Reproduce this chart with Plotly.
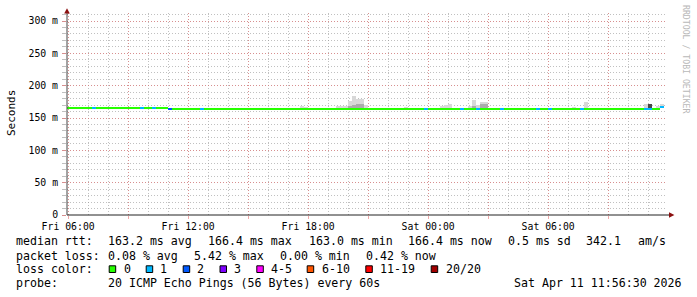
import plotly.graph_objects as go
from datetime import datetime, timedelta

# ---------------- data ----------------
T_START = "2026-04-10 05:56:30"
T_END = "2026-04-11 11:56:30"
BIN_START = datetime(2026, 4, 10, 5, 48)   # first (partly visible) 12-minute bin
BIN_MINUTES = 12

# median rtt per 12-minute bin (ms)
median_ms = [
    165.2, 165.2, 165.2, 165.2, 165.2, 165.2, 165.2, 165.2, 165.2, 165.2,
    165.2, 165.2, 165.2, 165.2, 165.2, 165.2, 165.2, 165.2, 165.2, 165.2,
    165.2, 165.2, 165.2, 165.2, 165.2, 165.2, 163.2, 163.2, 163.2, 163.2,
    163.2, 163.2, 163.2, 163.2, 163.2, 163.2, 163.2, 163.2, 163.2, 163.2,
    163.2, 163.2, 163.2, 163.2, 163.2, 163.2, 163.2, 163.2, 163.2, 163.2,
    163.2, 163.2, 163.2, 163.2, 163.2, 163.2, 163.2, 163.2, 163.2, 164.4,
    163.2, 163.2, 163.2, 163.2, 163.2, 163.2, 163.2, 163.2, 163.2, 163.2,
    163.2, 163.2, 164.4, 163.2, 163.2, 163.2, 163.2, 163.2, 163.2, 163.2,
    163.2, 163.2, 163.2, 163.2, 163.2, 163.2, 163.2, 163.2, 163.2, 163.2,
    163.2, 163.2, 163.2, 163.2, 163.2, 163.2, 163.2, 163.2, 163.2, 163.2,
    163.2, 163.2, 163.2, 163.2, 163.2, 164.6, 163.2, 163.2, 163.2, 163.2,
    163.2, 163.2, 163.2, 163.2, 163.2, 163.2, 163.2, 163.2, 163.2, 163.2,
    163.2, 163.2, 163.2, 163.2, 163.2, 163.2, 163.2, 163.2, 163.2, 163.2,
    163.2, 163.2, 163.2, 163.2, 163.2, 163.2, 163.2, 163.2, 163.2, 163.2,
    163.2, 163.2, 163.2, 163.2, 163.2, 163.2, 163.2, 163.2, 163.2, 166.4,
]

# lost pings (of 20) per bin
loss_count = [
    0, 0, 0, 0, 0, 0, 0, 1, 0, 0,
    0, 0, 0, 0, 0, 0, 0, 0, 0, 1,
    0, 0, 1, 0, 0, 0, 2, 0, 0, 0,
    0, 0, 0, 0, 1, 0, 0, 0, 0, 0,
    0, 0, 0, 0, 0, 0, 0, 0, 0, 0,
    0, 0, 0, 0, 0, 0, 0, 0, 0, 0,
    0, 0, 0, 0, 0, 0, 0, 0, 0, 0,
    0, 0, 0, 0, 0, 0, 0, 0, 0, 0,
    0, 0, 0, 0, 0, 0, 0, 0, 0, 0,
    1, 0, 0, 0, 0, 0, 0, 0, 0, 1,
    0, 0, 0, 1, 0, 0, 0, 0, 0, 1,
    0, 0, 0, 0, 0, 0, 0, 0, 1, 0,
    0, 1, 0, 0, 0, 0, 0, 0, 0, 1,
    0, 0, 0, 0, 0, 0, 0, 0, 0, 0,
    0, 0, 0, 0, 0, 1, 1, 0, 0, 1,
]

# smoke (ping spread above the median): bin index, highest ping, upper-band ping, dark band
smoke_bin = [24, 57, 58, 59, 60, 64, 65, 68, 69, 70, 71, 72, 73, 74, 75, 85, 88,
             94, 95, 96, 101, 102, 103, 104, 105, 127, 130, 145, 146, 148, 149]
smoke_top = [167.5, 166.0, 166.0, 168.5, 167.0, 166.0, 166.0, 168.5, 168.5, 168.5,
             176.3, 184.0, 179.4, 179.4, 170.1, 167.0, 166.0,
             168.5, 170.0, 171.6, 168.5, 177.8, 170.1, 174.7, 174.7, 167.0, 174.7,
             171.6, 171.6, 168.0, 171.0]
smoke_mid = [None, None, None, None, None, None, None, None, None, None,
             169.0, 170.5, 171.6, 171.6, None, None, None,
             None, None, None, None, 168.0, None, 171.0, 171.0, None, None,
             None, 171.6, None, None]
smoke_dark = [None] * 28 + [171.6, None, None]

loss_levels = ["0", "1", "2", "3", "4-5", "6-10", "11-19", "20/20"]
loss_colors = ["#26ff00", "#00b8ff", "#0059ff", "#7e00ff", "#ff00ff", "#ff5500", "#ff0000", "#a10000"]

y_tick_vals = [0, 50, 100, 150, 200, 250, 300]
y_tick_text = ["0", "50 m", "100 m", "150 m", "200 m", "250 m", "300 m"]
x_tick_vals = ["2026-04-10 06:00", "2026-04-10 09:00", "2026-04-10 12:00", "2026-04-10 15:00",
               "2026-04-10 18:00", "2026-04-10 21:00", "2026-04-11 00:00", "2026-04-11 03:00",
               "2026-04-11 06:00", "2026-04-11 09:00"]
x_tick_text = ["Fri 06:00", "", "Fri 12:00", "", "Fri 18:00", "", "Sat 00:00", "", "Sat 06:00", ""]

stats_rtt = ["163.2 ms avg", "166.4 ms max", "163.0 ms min", "166.4 ms now", "0.5 ms sd", "342.1", "am/s"]
stats_loss = ["0.08 % avg", "5.42 % max", "0.00 % min", "0.42 % now"]
probe_text = "20 ICMP Echo Pings (56 Bytes) every 60s"
stamp_text = "Sat Apr 11 11:56:30 2026"

# ---------------- layout geometry (pixels) ----------------
W, H = 697, 297
PL, PR, PT, PB = 67, 667, 13, 215
Y_MAX = 312.4
LINE_MS = 3.1
MONO = "DejaVu Sans Mono"


def xp(px):
    return (px - PL) / (PR - PL)


def yp(py):
    return (PB - py) / (PB - PT)


def loss_color(n):
    if n <= 0:
        return loss_colors[0]
    if n == 1:
        return loss_colors[1]
    if n == 2:
        return loss_colors[2]
    if n == 3:
        return loss_colors[3]
    if n <= 5:
        return loss_colors[4]
    if n <= 10:
        return loss_colors[5]
    if n <= 19:
        return loss_colors[6]
    return loss_colors[7]


bin_ms = BIN_MINUTES * 60 * 1000
centers = [(BIN_START + timedelta(minutes=BIN_MINUTES * i + BIN_MINUTES / 2)).strftime("%Y-%m-%d %H:%M:%S")
           for i in range(len(median_ms))]

fig = go.Figure()


def smoke_trace(vals, color):
    xs, bases, hs = [], [], []
    for b, v in zip(smoke_bin, vals):
        if v is None:
            continue
        xs.append(centers[b])
        bases.append(median_ms[b])
        hs.append(v - median_ms[b])
    fig.add_trace(go.Bar(x=xs, y=hs, base=bases, width=[bin_ms] * len(xs),
                         marker=dict(color=color, line=dict(width=0)), showlegend=False))


smoke_trace(smoke_top, "#d8d8d8")
smoke_trace(smoke_mid, "#ababab")
smoke_trace(smoke_dark, "#4a4a4a")

fig.add_trace(go.Bar(
    x=centers, y=[LINE_MS] * len(median_ms), base=[m - LINE_MS / 2 for m in median_ms],
    width=[bin_ms] * len(median_ms),
    marker=dict(color=[loss_color(n) for n in loss_count], line=dict(width=0)),
    showlegend=False))

major_grid = "rgba(230,110,110,0.6)"
minor_grid = "rgba(150,150,150,0.6)"

fig.update_layout(
    width=W, height=H, margin=dict(l=PL, r=W - PR, t=PT, b=H - PB),
    paper_bgcolor="white", plot_bgcolor="white", barmode="overlay", bargap=0,
    showlegend=False,
    font=dict(family=MONO, size=10, color="black"),
    xaxis=dict(type="date", range=[T_START, T_END], tickmode="array",
               tickvals=x_tick_vals, ticktext=x_tick_text,
               showgrid=True, gridcolor=major_grid, griddash="1px,2px", gridwidth=1,
               ticks="outside", ticklen=3, tickcolor=major_grid,
               minor=dict(dtick=3600000, tick0="2026-04-10 00:00", showgrid=True,
                          gridcolor=minor_grid, griddash="1px,2px", ticks=""),
               showline=False, zeroline=False, tickfont=dict(family=MONO, size=9.8),
               ticklabelstandoff=-1, fixedrange=True),
    yaxis=dict(range=[0, Y_MAX], tickmode="array", tickvals=y_tick_vals, ticktext=y_tick_text,
               showgrid=True, gridcolor=major_grid, griddash="1px,2px", gridwidth=1,
               ticks="outside", ticklen=4, tickcolor=major_grid,
               minor=dict(dtick=10, tick0=0, showgrid=True, gridcolor=minor_grid,
                          griddash="1px,2px", ticks="outside", ticklen=4, tickcolor=minor_grid),
               showline=False, zeroline=False, tickfont=dict(family=MONO, size=9.8),
               ticklabelstandoff=2, fixedrange=True),
)

shapes = []
# axes lines and arrows
shapes.append(dict(type="line", xref="paper", yref="paper", x0=xp(PL), x1=xp(670), y0=yp(215), y1=yp(215),
                   line=dict(color="#222222", width=1)))
shapes.append(dict(type="line", xref="paper", yref="paper", x0=xp(PL), x1=xp(PL), y0=yp(215), y1=yp(11),
                   line=dict(color="#444444", width=1)))
shapes.append(dict(type="path", xref="paper", yref="paper",
                   path=f"M {xp(64.2)} {yp(13.6)} L {xp(69.8)} {yp(13.6)} L {xp(67)} {yp(8.2)} Z",
                   fillcolor="#8b1010", line=dict(width=0)))
shapes.append(dict(type="path", xref="paper", yref="paper",
                   path=f"M {xp(669)} {yp(212.2)} L {xp(669)} {yp(217.8)} L {xp(674.4)} {yp(215)} Z",
                   fillcolor="#8b1010", line=dict(width=0)))

annotations = []


def text(t, px, py, size=11.6, anchor="left", color="black", angle=0):
    annotations.append(dict(text=t, xref="paper", yref="paper", x=xp(px), y=yp(py),
                            xanchor=anchor, yanchor="middle", showarrow=False, textangle=angle,
                            font=dict(family=MONO, size=size, color=color), borderpad=0))


# y axis title and watermark
text("Seconds", 11, 113, size=11, anchor="center", angle=-90)
text("RRDTOOL / TOBI OETIKER", 686, 59, size=8.2, anchor="center", color="#b8b8b8", angle=90)

# legend lines
text("median rtt:", 15, 241.5)
rtt_x = [106.5, 206.8, 307.5, 406.5, 506.5, 585.3, 636.5]
for s, x in zip(stats_rtt, rtt_x):
    text(s, x, 241.5)

text("packet loss:", 15, 255.5)
loss_x = [106.5, 192.5, 278.5, 364.5]
for s, x in zip(stats_loss, loss_x):
    text(s, x, 255.5)

text("loss color:", 15, 269.3)
sq_x = [108.7, 145.7, 182.7, 219.5, 256.3, 306.7, 365.3, 430.7]
lab_x = [122.5, 159.3, 196.3, 233.0, 270.0, 320.6, 379.3, 444.6]
for lab, col, sx, lx in zip(loss_levels, loss_colors, sq_x, lab_x):
    shapes.append(dict(type="rect", xref="paper", yref="paper",
                       x0=xp(sx + 0.5), x1=xp(sx + 7), y0=yp(272.5), y1=yp(265.8),
                       fillcolor=col, line=dict(color="black", width=1)))
    text(lab, lx, 269.3)

text("probe:", 15, 283.3)
text(probe_text, 106.5, 283.3)
text(stamp_text, 512.5, 283.3)

fig.update_layout(shapes=shapes, annotations=annotations)
fig.write_html("out.html")
